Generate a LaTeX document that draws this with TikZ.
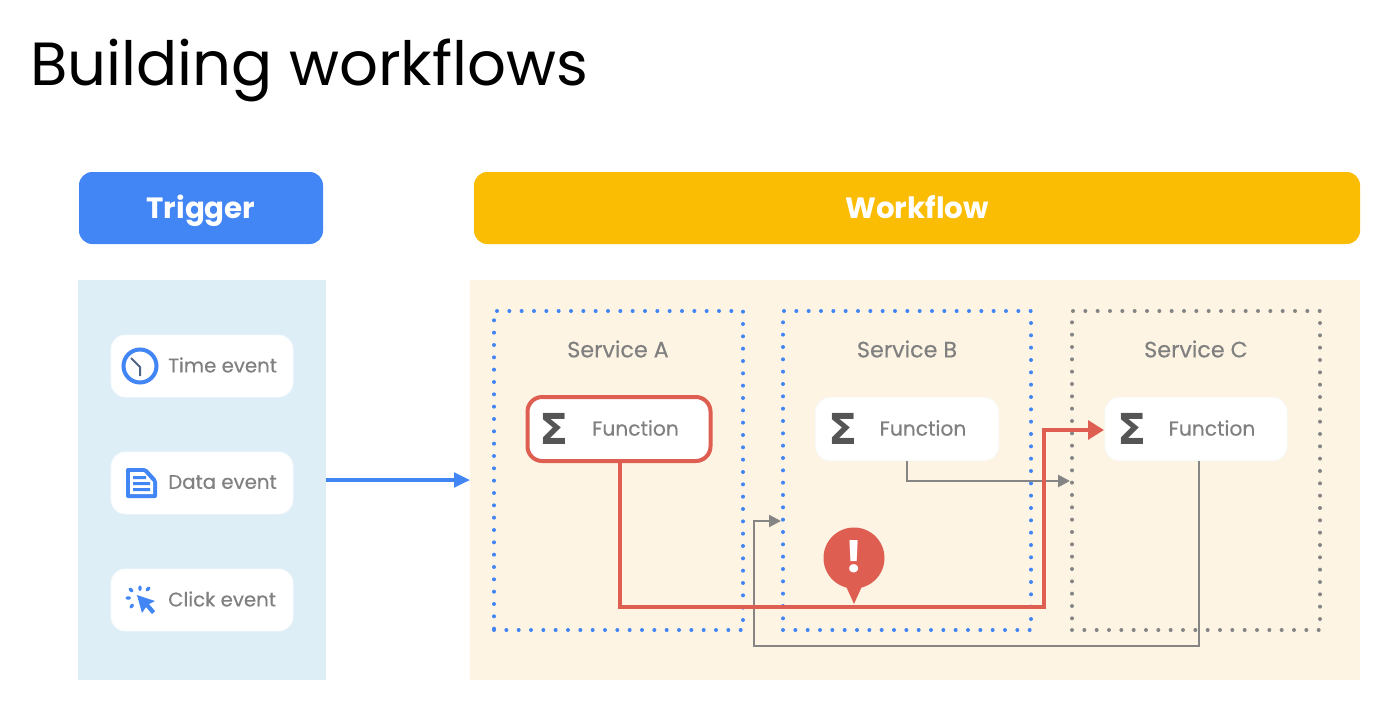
\documentclass[tikz,border=0pt]{standalone}
\usepackage{fontspec}
\setmainfont{Poppins}
\newfontfamily\symfont{DejaVu Sans}
\newfontfamily\medfont[FakeBold=0.35]{Poppins}
\usetikzlibrary{arrows.meta,calc}
\definecolor{gblue}{HTML}{4285F4}
\definecolor{gyellow}{HTML}{FBBC04}
\definecolor{gred}{HTML}{DE5E52}
\definecolor{ggrey}{HTML}{858585}
\definecolor{txtgrey}{HTML}{808080}
\definecolor{sigmagrey}{HTML}{555555}
\definecolor{panelblue}{HTML}{DEEEF7}
\definecolor{panelcream}{HTML}{FDF4E3}
\tikzset{
  box/.style n args={2}{minimum width=#1*0.75pt,minimum height=#2*0.75pt,inner sep=0pt,outer sep=0pt},
  header/.style={rectangle,rounded corners=10pt,text=white,text height=20pt,text depth=5pt,font=\fontsize{22}{26}\selectfont\bfseries},
  panel/.style={rectangle},
  servicebox/.style={rectangle,line width=3pt,line cap=round,dash pattern=on 0pt off 9.25pt},
  card/.style={rectangle,rounded corners=11pt,fill=white,draw=white!75!panelblue,line width=0.6pt},
  lbl/.style={inner sep=0pt,text=txtgrey,font=\medfont\fontsize{14.8}{18}\selectfont},
  fnl/.style={inner sep=0pt,text=txtgrey,font=\medfont\fontsize{15.2}{18}\selectfont},
  svc/.style={inner sep=0pt,text=txtgrey,font=\medfont\fontsize{16.7}{19}\selectfont},
  sigma/.style={inner sep=0pt,text=sigmagrey,font=\symfont\bfseries\fontsize{32}{34}\selectfont},
  flow/.style={-{Triangle[length=9pt,width=9pt]},line join=miter},
}
\begin{document}
\begin{tikzpicture}[x=0.75pt,y=-0.75pt]
\useasboundingbox (0,0) rectangle (1400,728);
\node[anchor=base west,inner sep=0pt,font=\fontsize{45.7}{56}\selectfont] (title) at (30,85) {Building workflows};

\node[header,box={244}{72},fill=gblue] (trigger) at (201,208) {Trigger};
\node[header,box={886}{72},fill=gyellow] (workflow) at (917,208) {Workflow};

\node[panel,box={248}{400},fill=panelblue] (tpanel) at (202,480) {};
\node[panel,box={890}{400},fill=panelcream] (wpanel) at (915,480) {};

\node[servicebox,box={249}{319},draw=gblue] (sa) at (618.5,470.5) {};
\node[servicebox,box={248}{319},draw=gblue] (sb) at (907,470.5) {};
\node[servicebox,box={248}{319},draw=ggrey] (sc) at (1196,470.5) {};
\node[svc] (sal) at (618,349) {Service A};
\node[svc] (sbl) at (907,349) {Service B};
\node[svc] (scl) at (1196,349) {Service C};

% event cards
\node[card,box={182}{62}] (c1) at (202,366) {};
\node[card,box={182}{62}] (c2) at (202,483) {};
\node[card,box={182}{62}] (c3) at (202,600) {};
\node[lbl,anchor=west] (c1l) at (168,365) {Time event};
\node[lbl,anchor=west] (c2l) at (168,482) {Data event};
\node[lbl,anchor=west] (c3l) at (168,599) {Click event};

% clock icon
\draw[gblue,line width=3pt] (140,366) circle[radius=16.5*0.75pt];
\draw[sigmagrey!70!gblue,line width=1.5pt] (131,358) -- (140,367) -- (140,376);
% document icon
\fill[gblue,rounded corners=1.5pt] (126,468) -- (146,468) -- (157,480) -- (157,498) -- (126,498) -- cycle;
\fill[white] (130,472) -- (144,472) -- (153,482) -- (153,494) -- (130,494) -- cycle;
\fill[gblue] (133,476) rectangle (146,479) (133,482) rectangle (150,485) (133,488) rectangle (150,491);
% click icon
\fill[gblue] (137,595) -- (155,601) -- (149,604) -- (155,611) -- (152,614) -- (146,607) -- (142,613) -- cycle;
\draw[gblue,line width=2.4pt,line cap=round] (140,587) -- (140,589.5) (130,589) -- (132,591) (149,588) -- (147,590) (127,598) -- (129.5,598) (131,607) -- (132.5,605);

% function cards
\node[card,box={183}{64},draw=gred,line width=3pt] (fa) at (619,429) {};
\node[card,box={183}{63}] (fb) at (907,429) {};
\node[card,box={182}{63}] (fc) at (1196,429) {};
\node[fnl] (fal) at (635.5,428) {Function};
\node[fnl] (fbl) at (923,428) {Function};
\node[fnl] (fcl) at (1212,428) {Function};
\node[sigma] (s1) at (554.5,429) {Σ};
\node[sigma] (s2) at (843.5,429) {Σ};
\node[sigma] (s3) at (1132,429) {Σ};

% connectors
\draw[gblue,line width=2.4pt,-{Triangle[length=12pt,width=11pt]}] (tpanel.east) -- (wpanel.west);

\coordinate (bend1) at (907,481);
\coordinate (gb) at (1070,481);
\draw[ggrey,line width=2pt,flow] (fb.south) -- (bend1) -- (gb);

\coordinate (cout) at (1199,460.5);
\coordinate (c1b) at (1199,646);
\coordinate (c2b) at (754,646);
\coordinate (c3b) at (754,521);
\coordinate (gc) at (781,521);
\draw[ggrey,line width=1.6pt,flow] (cout) -- (c1b) -- (c2b) -- (c3b) -- (gc);

\coordinate (r1) at (620,607);
\coordinate (r2) at (1044,607);
\coordinate (r3) at (1044,430);
\coordinate (r4) at (1104,430);
\draw[gred,line width=3.4pt,line join=miter,-{Triangle[length=12pt,width=14pt]}] (fa.south -| r1) -- (r1) -- (r2) -- (r3) -- (r4);

% alert marker
\fill[gred] (854,558) circle[radius=30.5*0.75pt];
\fill[gred] (845,584) -- (863,584) -- (854,604) -- cycle;
\node[inner sep=0pt,text=white,font=\fontsize{33}{36}\selectfont\bfseries] (alert) at (854,557) {!};
\end{tikzpicture}
\end{document}
